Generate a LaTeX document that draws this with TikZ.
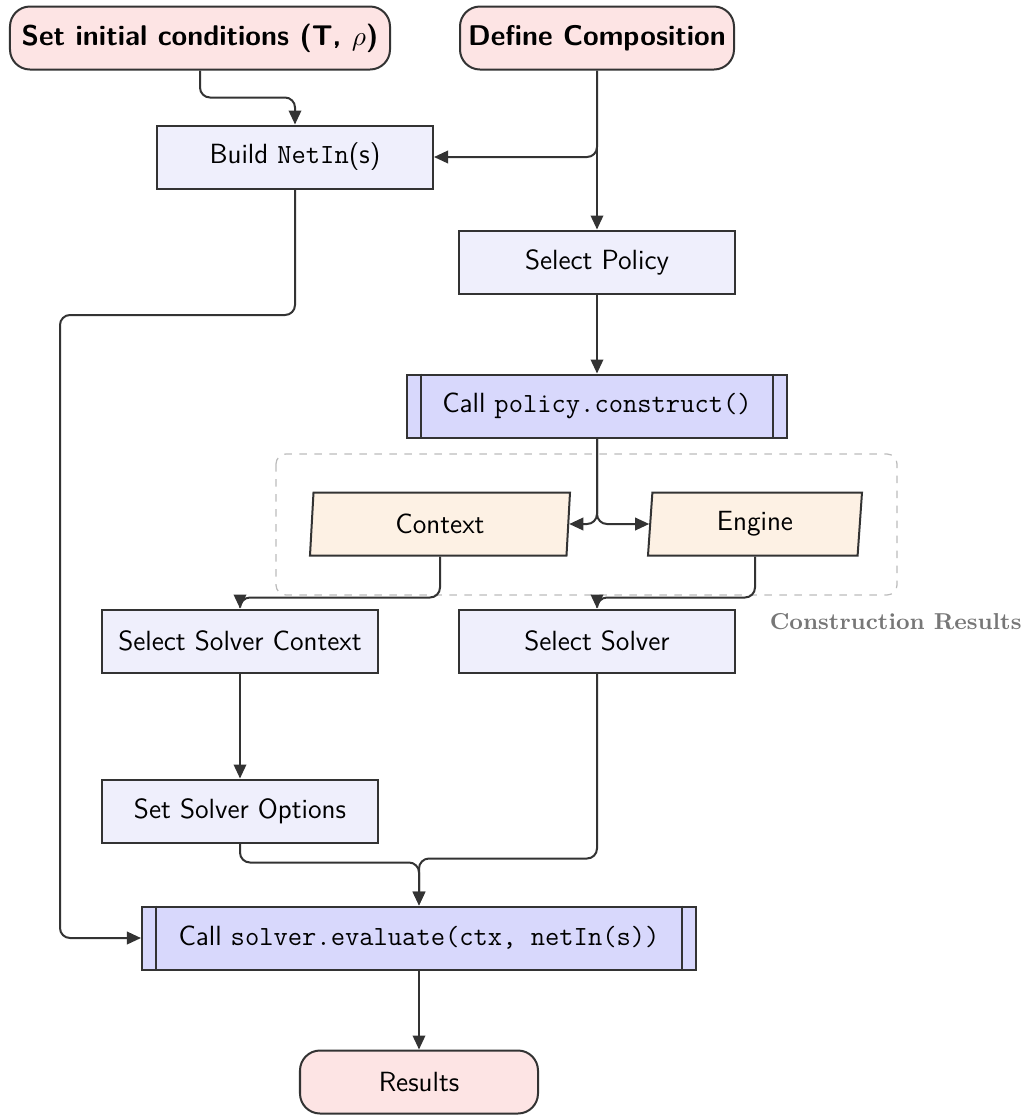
\documentclass[tikz,border=0pt]{standalone}
\usetikzlibrary{arrows.meta,shapes.geometric}

\definecolor{termfill}{HTML}{FDE4E4}
\definecolor{procfill}{HTML}{EFEFFC}
\definecolor{subfill}{HTML}{D8D8FC}
\definecolor{iofill}{HTML}{FDF1E4}
\definecolor{ink}{HTML}{333333}
\definecolor{groupline}{HTML}{BBBBBB}
\definecolor{grouptext}{HTML}{777777}

\tikzset{
  base/.style={draw=ink, line width=0.8pt,
    font=\sffamily\fontsize{11.1}{13.3}\selectfont, align=center,
    inner sep=0pt, minimum height=25.2pt},
  terminal/.style={base, fill=termfill, rounded corners=8pt},
  process/.style={base, fill=procfill, minimum width=110.4pt},
  subroutine/.style={base, fill=subfill},
  iobox/.style={base, fill=iofill, trapezium, trapezium left angle=80,
    trapezium right angle=100, trapezium stretches body},
  arr/.style={draw=ink, line width=0.8pt, rounded corners=4pt,
    -{Triangle[length=5.6pt,width=5pt]}},
  subline/.style={draw=ink, line width=0.8pt},
}

\begin{document}
\begin{tikzpicture}[x=0.4pt,y=-0.4pt]
  \useasboundingbox (0,0) rectangle (1028,1115);

  % group frame for the construction results
  \draw[groupline, dashed, line width=0.5pt, rounded corners=4pt]
    (276,454) rectangle (897,595);
  \node[anchor=east, inner sep=0pt, font=\bfseries\fontsize{9.2}{11}\selectfont,
    text=grouptext] (grouplabel) at (1022,622) {Construction Results};

  % start nodes
  \node[terminal, minimum width=152pt,
    font=\sffamily\bfseries\fontsize{11.4}{13.6}\selectfont] (init) at (200,38)
    {Set initial conditions (T, $\rho$)};
  \node[terminal, minimum width=109.6pt,
    font=\sffamily\bfseries\fontsize{11.4}{13.6}\selectfont] (comp) at (597,38)
    {Define Composition};

  % processing steps
  \node[process] (netin) at (295,157) {Build \texttt{NetIn}(s)};
  \node[process] (policy) at (597,262) {Select Policy};
  \node[subroutine, minimum width=152pt] (construct) at (597,406)
    {Call \texttt{policy.construct()}};

  \node[iobox, minimum width=104pt] (ctx) at (440,524) {Context};
  \node[iobox, minimum width=85.6pt] (engine) at (755,524) {Engine};

  \node[process] (solverctx) at (240,641) {Select Solver Context};
  \node[process] (solver) at (597,641) {Select Solver};
  \node[process] (options) at (240,811) {Set Solver Options};

  \node[subroutine, minimum width=221.6pt] (evaluate) at (419,938)
    {Call \texttt{solver.evaluate(ctx, netIn(s))}};

  \node[terminal, minimum width=95.2pt] (results) at (419,1082) {Results};

  % side bars of the subroutine boxes
  \foreach \n in {construct,evaluate}{
    \draw[subline] ([xshift=6pt]\n.north west) -- ([xshift=6pt]\n.south west);
    \draw[subline] ([xshift=-6pt]\n.north east) -- ([xshift=-6pt]\n.south east);
  }

  % connectors
  \draw[arr] (init.south) -- ++(0,27) -| (netin.north);
  \draw[arr] (comp.south) |- (netin.east);
  \draw[arr] (comp.south) -- (policy.north);
  \draw[arr] (netin.south) |- (60,315) |- (evaluate.west);
  \draw[arr] (policy.south) -- (construct.north);
  \draw[arr] (construct.south) |- (ctx.east);
  \draw[arr] (construct.south) |- (engine.west);
  \draw[arr] (ctx.south) -- ++(0,41) -| (solverctx.north);
  \draw[arr] (engine.south) -- ++(0,41) -| (solver.north);
  \draw[arr] (solverctx.south) -- (options.north);
  \draw[arr] (options.south) -- ++(0,19) -| (evaluate.north);
  \draw[arr] (solver.south) -- ++(0,185) -| (evaluate.north);
  \draw[arr] (evaluate.south) -- (results.north);
\end{tikzpicture}
\end{document}
